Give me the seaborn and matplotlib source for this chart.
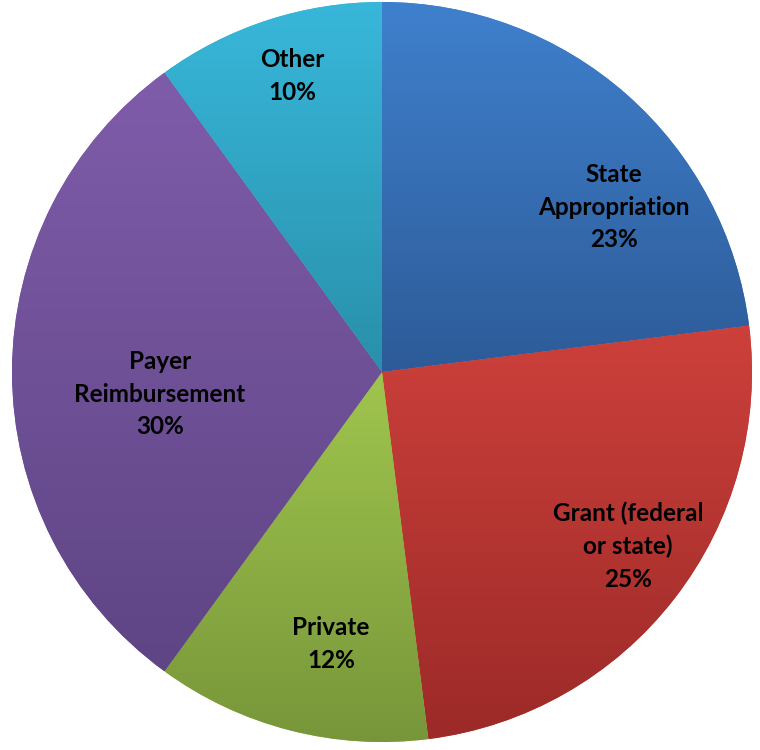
import matplotlib
matplotlib.use("Agg")
import matplotlib.pyplot as plt
import matplotlib.colors as mcolors
import numpy as np
import seaborn as sns

# Funding sources
CATEGORIES = ["State\nAppropriation", "Grant (federal\nor state)", "Private",
              "Payer\nReimbursement", "Other"]
SHARES = [23, 25, 12, 30, 10]

# light (top) / dark (bottom) colours of each slice gradient
TOP_COLORS = ["#3f80cd", "#cd403b", "#a0c54d", "#7f5caa", "#38b7da"]
BOTTOM_COLORS = ["#2d5b98", "#9c2a28", "#77963a", "#5e4584", "#2990aa"]

# label anchor points (data units, pie radius = 1)
LABEL_POS = [(0.627, 0.445), (0.665, -0.47), (-0.138, -0.735),
             (-0.6, -0.06), (-0.243, 0.80)]

sns.set_theme(style="white")
plt.rcParams["font.family"] = ["Lato", "DejaVu Sans"]

fig = plt.figure(figsize=(7.6, 7.5), dpi=100)
ax = fig.add_axes([12 / 760, 8 / 750, 740 / 760, 740 / 750])

wedges, _ = ax.pie(SHARES, startangle=90, counterclock=False, radius=1.0,
                   colors=TOP_COLORS, wedgeprops=dict(linewidth=0))

# paint a vertical gradient inside every wedge
for w, c_top, c_bot in zip(wedges, TOP_COLORS, BOTTOM_COLORS):
    path = w.get_path().transformed(w.get_patch_transform())
    x0, y0 = path.vertices.min(axis=0)
    x1, y1 = path.vertices.max(axis=0)
    cmap = mcolors.LinearSegmentedColormap.from_list("g", [c_bot, c_top])
    grad = np.linspace(0, 1, 256).reshape(-1, 1)
    im = ax.imshow(grad, cmap=cmap, origin="lower", aspect="auto",
                   extent=(x0, x1, y0, y1), zorder=2, interpolation="bilinear")
    im.set_clip_path(w)

for cat, share, (x, y) in zip(CATEGORIES, SHARES, LABEL_POS):
    ax.text(x, y, f"{cat}\n{share}%", ha="center", va="center",
            fontsize=17.5, fontweight="bold", color="black",
            linespacing=1.5, zorder=5)

ax.set_xlim(-1, 1)
ax.set_ylim(-1, 1)
ax.set_aspect("equal")
ax.axis("off")

fig.savefig("out.png", dpi=100)
